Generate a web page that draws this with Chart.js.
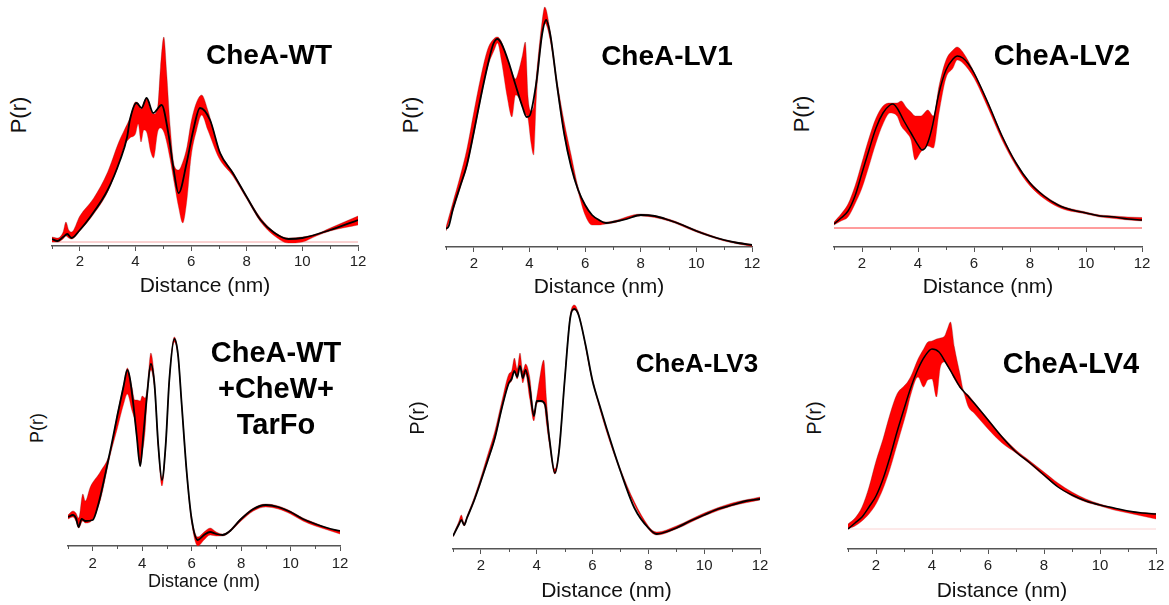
<!DOCTYPE html>
<html>
<head>
<meta charset="utf-8">
<script src="https://cdn.jsdelivr.net/npm/chart.js@4.4.0/dist/chart.umd.min.js"></script>
<style>
  body { margin: 0; background: #fff; }
  #page { position: relative; width: 1169px; height: 605px; overflow: hidden; font-family: "Liberation Sans", Arial, sans-serif; }
  canvas { position: absolute; }
  .ttl { position: absolute; font-weight: bold; text-align: center; white-space: nowrap; color: #000; transform: translateX(-50%); }
  .pr { position: absolute; transform: translate(-50%, -50%) rotate(-90deg); white-space: nowrap; color: #111; }
</style>
</head>
<body>
<div id="page"></div>
<script>
// P(r), arbitrary units. black = fit, band = red range

// CheA-WT
const wtX = [1.0, 1.2, 1.4, 1.55, 1.7, 2.0, 2.4, 3.0, 3.45, 3.7, 3.8, 4.04, 4.22, 4.4, 4.64, 4.94, 5.18, 5.36, 5.55, 5.84, 6.08, 6.32, 6.68, 7.04, 7.5, 8.0, 8.5, 9.0, 9.5, 10.0, 11.0, 12.0];
const wtY = [3, 1, 5, 8, 4, 12, 26, 52, 82, 105, 122, 139, 134, 144, 129, 137, 109, 75, 49, 79, 112, 134, 122, 89, 69, 45, 22, 9, 3, 4, 12, 22];
const wtBandX = [1.0, 1.2, 1.4, 1.5, 1.6, 1.7, 2.0, 2.5, 3.0, 3.4, 3.6, 3.8, 4.0, 4.1, 4.2, 4.3, 4.4, 4.55, 4.65, 4.8, 4.9, 5.02, 5.12, 5.25, 5.4, 5.55, 5.7, 5.85, 6.0, 6.2, 6.38, 6.6, 7.0, 7.5, 8.0, 8.5, 9.0, 9.5, 10.0, 10.5, 11.0, 12.0];
const wtUpper = [5, 4, 10, 20, 12, 10, 26, 44, 70, 100, 112, 124, 140, 139, 133, 140, 144, 132, 128, 135, 175, 205, 170, 115, 76, 72, 80, 95, 120, 140, 147, 132, 93, 70, 46, 24, 10, 4, 5, 8, 14, 26];
const wtLower = [0, 0, 3, 6, 4, 3, 11, 28, 50, 78, 96, 104, 108, 118, 100, 112, 110, 90, 84, 110, 114, 110, 100, 82, 58, 35, 19, 42, 85, 112, 127, 112, 84, 66, 43, 20, 6, -1, 0, 6, 11, 17];

// CheA-LV1
const lv1X = [1.0, 1.1, 1.25, 1.5, 1.75, 2.0, 2.25, 2.5, 2.7, 2.85, 3.0, 3.25, 3.5, 3.75, 3.9, 4.0, 4.25, 4.45, 4.6, 4.75, 5.0, 5.25, 5.5, 5.75, 6.0, 6.25, 6.5, 6.75, 7.0, 7.5, 8.0, 8.5, 9.0, 9.5, 10.0, 10.5, 11.0, 11.5, 12.0];
const lv1Y = [18, 21, 38, 60, 82, 115, 150, 182, 203, 208, 203, 185, 162, 140, 130, 131, 165, 212, 227, 212, 160, 113, 80, 57, 42, 32, 27, 24, 25, 28, 32, 31, 27, 22, 16, 11, 7, 4, 2];
const lv1BandX = [1.0, 1.25, 1.5, 1.75, 2.0, 2.25, 2.5, 2.75, 2.85, 3.0, 3.2, 3.37, 3.5, 3.6, 3.75, 3.85, 3.95, 4.05, 4.15, 4.25, 4.45, 4.55, 4.75, 5.0, 5.25, 5.5, 5.75, 6.0, 6.25, 6.5, 6.75, 7.0, 8.0, 9.0, 10.0, 11.0, 12.0];
const lv1Upper = [20, 45, 70, 98, 135, 170, 198, 209, 210, 205, 188, 175, 168, 175, 192, 205, 150, 136, 140, 172, 225, 240, 215, 165, 125, 92, 60, 42, 32, 27, 25, 26, 33, 28, 17, 7.5, 2.5];
const lv1Lower = [16, 36, 58, 80, 112, 148, 180, 198, 204, 185, 150, 130, 152, 150, 140, 133, 128, 105, 92, 150, 210, 224, 206, 157, 112, 80, 55, 32, 22, 22, 23, 24, 31, 26, 15, 6, 0.5];

// CheA-LV2
const lv2X = [1.0, 1.25, 1.5, 1.75, 2.0, 2.25, 2.5, 2.75, 3.0, 3.1, 3.25, 3.5, 3.75, 4.0, 4.15, 4.3, 4.5, 4.75, 5.0, 5.25, 5.4, 5.6, 5.8, 6.0, 6.5, 7.0, 7.5, 8.0, 8.5, 9.0, 9.5, 10.0, 10.5, 11.0, 11.5, 12.0];
const lv2Y = [4, 10, 17, 32, 55, 78, 100, 115, 123, 124, 120, 107, 95, 83, 78, 82, 100, 135, 158, 169, 172, 170, 164, 155, 125, 92, 65, 45, 32, 23, 18, 15, 12, 11, 9, 8];
const lv2BandX = [1.0, 1.25, 1.5, 1.75, 2.0, 2.25, 2.5, 2.75, 3.0, 3.25, 3.4, 3.6, 3.75, 3.9, 4.1, 4.35, 4.55, 4.75, 5.0, 5.25, 5.4, 5.6, 6.0, 6.5, 7.0, 7.5, 8.0, 9.0, 10.0, 10.5, 11.0, 11.5, 12.0];
const lv2Upper = [6, 14, 24, 42, 66, 90, 110, 122, 125, 125, 127, 120, 116, 112, 112, 118, 112, 142, 168, 178, 181, 176, 156, 126, 93, 66, 46, 24, 16, 13, 12, 11, 10.5];
const lv2Lower = [3, 7, 11, 24, 40, 62, 85, 104, 115, 112, 102, 95, 88, 68, 76, 82, 80, 115, 150, 160, 168, 165, 150, 120, 88, 62, 42, 21, 14, 11, 9.5, 8, 7];

// CheA-WT+CheW+TarFo
const cplxX = [1.0, 1.2, 1.32, 1.43, 1.55, 1.7, 2.0, 2.25, 2.5, 2.75, 3.0, 3.25, 3.4, 3.5, 3.65, 3.78, 3.92, 4.05, 4.2, 4.35, 4.5, 4.65, 4.8, 4.95, 5.1, 5.3, 5.45, 5.6, 5.8, 6.0, 6.25, 6.5, 6.75, 7.0, 7.25, 7.5, 8.0, 8.5, 9.0, 9.5, 10.0, 10.5, 11.0, 11.5, 12.0];
const cplxY = [29, 31, 28, 19, 27, 25, 26, 44, 71, 100, 131, 160, 176, 168, 140, 110, 80, 112, 152, 182, 161, 101, 66, 101, 167, 207, 191, 141, 74, 27, 6, 11, 14, 12, 11, 14, 27, 37, 41, 39, 34, 27, 22, 18, 15];
const cplxBandX = [1.0, 1.2, 1.32, 1.43, 1.6, 1.7, 1.9, 2.3, 2.7, 3.0, 3.25, 3.4, 3.58, 3.7, 3.8, 3.92, 4.0, 4.12, 4.2, 4.35, 4.5, 4.65, 4.8, 4.95, 5.1, 5.3, 5.45, 5.6, 5.8, 6.0, 6.25, 6.5, 6.75, 7.0, 7.25, 7.5, 8.0, 8.5, 9.0, 9.5, 10.0, 10.5, 11.0, 11.5, 12.0];
const cplxUpper = [31, 35, 33, 28, 52, 45, 59, 74, 94, 133, 162, 178, 160, 146, 146, 145, 150, 148, 158, 193, 166, 104, 68, 104, 169, 209, 193, 143, 76, 29, 9, 14, 18, 14, 12, 15, 28, 38, 42, 40, 35, 28, 23, 18, 15];
const cplxLower = [27, 29, 25, 18, 25, 23, 24, 45, 90, 118, 142, 152, 136, 125, 105, 80, 92, 115, 147, 176, 156, 97, 60, 97, 164, 204, 188, 138, 71, 23, 0, 6, 11, 10, 10, 13, 25, 35, 39, 37, 32, 25, 20, 16, 12];

// CheA-LV3
const lv3X = [1.0, 1.2, 1.3, 1.4, 1.5, 1.75, 2.0, 2.25, 2.5, 2.75, 3.0, 3.1, 3.2, 3.3, 3.4, 3.5, 3.6, 3.75, 3.9, 4.0, 4.15, 4.3, 4.45, 4.65, 4.8, 5.0, 5.2, 5.35, 5.5, 5.75, 6.0, 6.25, 6.5, 7.0, 7.5, 8.0, 8.3, 8.5, 9.0, 9.5, 10.0, 10.5, 11.0, 11.5, 12.0];
const lv3Y = [13, 24, 29, 24, 31, 48, 68, 89, 111, 141, 166, 170, 178, 172, 183, 171, 179, 161, 133, 148, 148, 144, 111, 76, 98, 168, 231, 240, 234, 204, 168, 144, 121, 78, 41, 21, 15, 16, 21, 28, 34, 40, 44, 48, 50];
const lv3BandX = [1.0, 1.2, 1.3, 1.4, 1.5, 1.75, 2.0, 2.25, 2.5, 2.75, 3.0, 3.1, 3.2, 3.3, 3.4, 3.5, 3.6, 3.75, 3.9, 4.0, 4.1, 4.25, 4.35, 4.45, 4.65, 4.8, 5.0, 5.2, 5.35, 5.5, 6.0, 7.0, 8.0, 8.3, 9.0, 10.0, 11.0, 12.0];
const lv3Upper = [14, 27, 34, 26, 33, 51, 72, 95, 118, 148, 175, 178, 191, 180, 196, 178, 185, 172, 138, 152, 170, 189, 150, 115, 80, 101, 171, 234, 244, 236, 170, 80, 23, 17, 23, 36, 46, 52];
const lv3Lower = [12, 23, 28, 23, 30, 47, 67, 88, 110, 140, 165, 168, 177, 170, 182, 166, 175, 150, 128, 145, 147, 147, 125, 105, 75, 96, 166, 230, 239, 233, 167, 77, 20, 14, 20, 33, 43, 49];

// CheA-LV4
const lv4X = [1.0, 1.25, 1.5, 1.75, 2.0, 2.25, 2.5, 2.75, 3.0, 3.25, 3.5, 3.75, 4.0, 4.25, 4.5, 4.75, 5.0, 5.25, 5.5, 6.0, 6.5, 7.0, 7.5, 8.0, 8.5, 9.0, 9.5, 10.0, 10.5, 11.0, 11.5, 12.0];
const lv4Y = [0, 6, 12, 22, 33, 50, 72, 97, 120, 142, 160, 173, 180, 177, 166, 154, 142, 134, 126, 109, 92, 77, 66, 54, 42, 34, 28, 24, 21, 18, 16, 15];
const lv4BandX = [1.0, 1.25, 1.5, 1.75, 2.0, 2.25, 2.5, 2.75, 3.0, 3.1, 3.25, 3.5, 3.7, 3.85, 4.0, 4.16, 4.3, 4.45, 4.55, 4.66, 4.8, 5.0, 5.12, 5.3, 5.5, 6.0, 6.5, 7.0, 7.5, 8.0, 8.5, 9.0, 9.5, 10.0, 10.5, 11.0, 11.5, 12.0];
const lv4Upper = [5, 11, 22, 42, 68, 90, 115, 135, 143, 146, 153, 170, 180, 187, 188, 190, 191, 193, 200, 207, 182, 155, 139, 134, 127, 110, 93, 79, 68, 57, 46, 37, 30, 25, 21, 18, 16.5, 15.5];
const lv4Lower = [0, 3, 8, 15, 25, 40, 60, 84, 108, 118, 135, 152, 142, 149, 150, 132, 162, 167, 163, 158, 150, 141, 137, 122, 116, 100, 86, 76, 65, 53, 42, 33, 27, 23, 19, 16, 13, 10];

// zero line
const zeroX = [1, 12];
const zeroY = [0, 0];

const xTicks = [2, 4, 6, 8, 10, 12];

const panels = [
  { lines: ["CheA-WT"], x: wtX, y: wtY, bx: wtBandX, up: wtUpper, lo: wtLower, zero: "#f4a4a4",
    L: 52, R: 358, T: 30, B: 246, base: 242, tick: 15, tickPad: 2, lab: 21, labPad: 2,
    tx: 269, ty: 41, ts: 28, px: 19, py: 115, ps: 22, lw: 1.8 },
  { lines: ["CheA-LV1"], x: lv1X, y: lv1Y, bx: lv1BandX, up: lv1Upper, lo: lv1Lower, zero: null,
    L: 446, R: 752, T: 2, B: 247, base: 247, tick: 15, tickPad: 2.5, lab: 21, labPad: 2.4,
    tx: 667, ty: 42, ts: 28, px: 411, py: 115, ps: 22, lw: 1.8 },
  { lines: ["CheA-LV2"], x: lv2X, y: lv2Y, bx: lv2BandX, up: lv2Upper, lo: lv2Lower, zero: "#ff3a3a",
    L: 834, R: 1142, T: 30, B: 247, base: 228, tick: 15, tickPad: 2.5, lab: 21, labPad: 2.4,
    tx: 1062, ty: 41, ts: 29, px: 802, py: 114, ps: 22, lw: 1.5 },
  { lines: ["CheA-WT", "+CheW+", "TarFo"], x: cplxX, y: cplxY, bx: cplxBandX, up: cplxUpper, lo: cplxLower, zero: null,
    L: 68, R: 340, T: 325, B: 546, base: 546, tick: 15, tickPad: 4, lab: 18, labPad: 8,
    tx: 276, ty: 334, ts: 29, lh: 36, px: 37, py: 428, ps: 18, lw: 1.8 },
  { lines: ["CheA-LV3"], x: lv3X, y: lv3Y, bx: lv3BandX, up: lv3Upper, lo: lv3Lower, zero: null,
    L: 453, R: 760, T: 300, B: 549, base: 549, tick: 15, tickPad: 3, lab: 21, labPad: 0,
    tx: 697, ty: 350, ts: 26, px: 417, py: 418, ps: 20, lw: 1.8 },
  { lines: ["CheA-LV4"], x: lv4X, y: lv4Y, bx: lv4BandX, up: lv4Upper, lo: lv4Lower, zero: "#fbd3d3",
    L: 848, R: 1156, T: 310, B: 549, base: 529, tick: 15, tickPad: 3, lab: 21, labPad: 0,
    tx: 1071, ty: 349, ts: 29, px: 814, py: 418, ps: 20, lw: 1.5 },
];

const AXIS_H = 55;
const FONT = "'Liberation Sans', Arial, sans-serif";
const BAND_EDGE = "rgba(110,30,30,0.45)";

// minor ticks at odd nm, shorter than the labelled ones
const minorTicks = {
  id: "minorTicks",
  afterDraw(chart) {
    const sx = chart.scales.x;
    const ctx = chart.ctx;
    const y0 = chart.chartArea.bottom;
    ctx.save();
    ctx.strokeStyle = "#555";
    ctx.lineWidth = 1;
    for (let v = 1; v <= 11; v += 2) {
      const px = Math.round(sx.getPixelForValue(v)) + 0.5;
      ctx.beginPath();
      ctx.moveTo(px, y0);
      ctx.lineTo(px, y0 + 3);
      ctx.stroke();
    }
    ctx.restore();
  },
};

const pts = (xs, ys) => xs.map((x, i) => ({ x: x, y: ys[i] }));

const page = document.getElementById("page");

panels.forEach((p) => {
  const cv = document.createElement("canvas");
  const w = p.R - p.L + 24;
  const h = p.B - p.T + AXIS_H;
  cv.width = w;
  cv.height = h;
  cv.style.left = p.L - 10 + "px";
  cv.style.top = p.T + "px";
  cv.style.width = w + "px";
  cv.style.height = h + "px";
  page.appendChild(cv);

  const datasets = [
    { data: pts(p.x, p.y), borderColor: "#000", borderWidth: p.lw, order: 0 },
    { data: pts(p.bx, p.lo), borderColor: BAND_EDGE, borderWidth: 0.7, order: 2 },
    { data: pts(p.bx, p.up), borderColor: BAND_EDGE, borderWidth: 0.7,
      backgroundColor: "#ff0000", fill: "-1", order: 1 },
  ];
  if (p.zero) {
    datasets.push({ data: pts(zeroX, zeroY), borderColor: p.zero, borderWidth: 1, order: 3 });
  }

  new Chart(cv, {
    type: "line",
    data: { datasets: datasets },
    plugins: [minorTicks],
    options: {
      responsive: false,
      animation: false,
      devicePixelRatio: 1,
      layout: { padding: { left: 10, right: 14, top: 0, bottom: 0 } },
      elements: {
        point: { radius: 0 },
        line: { cubicInterpolationMode: "monotone" },
      },
      plugins: { legend: { display: false }, tooltip: { enabled: false } },
      scales: {
        x: {
          type: "linear",
          min: 1,
          max: 12,
          afterFit: (s) => { s.height = AXIS_H; },
          border: { display: true, color: "#555", width: 1.5 },
          grid: {
            drawOnChartArea: false,
            drawTicks: true,
            tickLength: 5,
            tickColor: (c) => (c.tick && c.tick.value % 2 === 0 ? "#555" : "rgba(0,0,0,0)"),
          },
          ticks: {
            stepSize: 1,
            autoSkip: false,
            maxRotation: 0,
            padding: p.tickPad,
            color: "#222",
            font: { family: FONT, size: p.tick },
            callback: (v) => (xTicks.includes(v) ? String(v) : ""),
          },
          title: {
            display: true,
            text: "Distance (nm)",
            color: "#111",
            font: { family: FONT, size: p.lab },
            padding: { top: 0, bottom: p.labPad },
          },
        },
        y: {
          display: false,
          min: -(p.B - p.base),
          max: p.base - p.T,
        },
      },
    },
  });

  const t = document.createElement("div");
  t.className = "ttl";
  t.style.left = p.tx + "px";
  t.style.top = p.ty + "px";
  t.style.fontSize = p.ts + "px";
  t.style.lineHeight = (p.lh || p.ts) + "px";
  t.innerHTML = p.lines.join("<br>");
  page.appendChild(t);

  const pr = document.createElement("div");
  pr.className = "pr";
  pr.style.left = p.px + "px";
  pr.style.top = p.py + "px";
  pr.style.fontSize = p.ps + "px";
  pr.textContent = "P(r)";
  page.appendChild(pr);
});
</script>
</body>
</html>
